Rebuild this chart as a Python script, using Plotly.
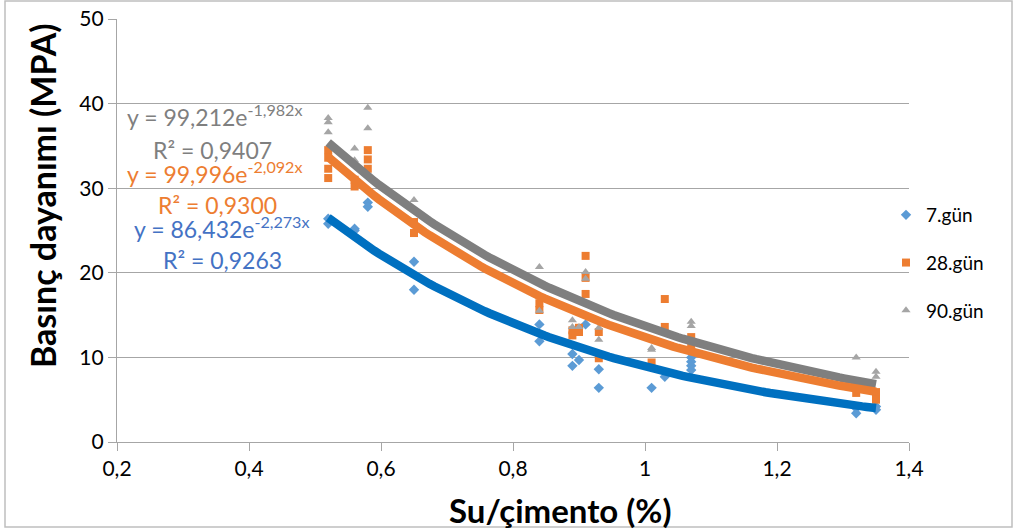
import numpy as np
import plotly.graph_objects as go

# ---- data ----
x7 = [0.52, 0.52, 0.56, 0.56, 0.58, 0.58, 0.65, 0.65, 0.84, 0.84, 0.89, 0.89, 0.90, 0.91,
      0.93, 0.93, 1.01, 1.03, 1.07, 1.07, 1.07, 1.07, 1.32, 1.32, 1.35, 1.35]
y7 = [25.8, 26.4, 25.2, 25.0, 28.3, 27.8, 21.3, 18.0, 13.9, 11.9, 10.4, 9.0, 9.7, 13.9,
      8.6, 6.4, 6.4, 7.7, 10.0, 9.5, 9.0, 8.5, 3.4, 4.0, 3.8, 4.2]

x28 = [0.52, 0.52, 0.52, 0.52, 0.56, 0.56, 0.58, 0.58, 0.58, 0.65, 0.65, 0.84, 0.84,
       0.89, 0.89, 0.90, 0.90, 0.91, 0.91, 0.91, 0.93, 0.93, 1.01, 1.03, 1.03, 1.07, 1.07,
       1.32, 1.35, 1.35]
y28 = [34.5, 33.6, 32.3, 31.2, 31.0, 30.2, 34.5, 33.4, 32.3, 24.7, 26.0, 16.4, 15.6,
       13.2, 12.6, 13.5, 13.0, 22.0, 19.4, 17.5, 13.0, 9.9, 9.4, 16.9, 13.6, 12.4, 11.5,
       5.8, 5.9, 5.0]

x90 = [0.52, 0.52, 0.52, 0.56, 0.56, 0.58, 0.58, 0.65, 0.84, 0.84, 0.89, 0.89, 0.90,
       0.91, 0.91, 0.93, 0.93, 1.01, 1.01, 1.03, 1.07, 1.07, 1.32, 1.35, 1.35]
y90 = [38.3, 37.8, 36.6, 34.7, 33.3, 39.5, 37.1, 28.6, 20.7, 15.5, 14.4, 13.6, 13.6,
       20.1, 19.3, 13.5, 12.1, 11.1, 10.9, 13.0, 14.2, 13.7, 10.0, 8.3, 7.7]

series_names = ["7.gün", "28.gün", "90.gün"]
fit_a = [86.432, 99.996, 99.212]
fit_b = [-2.273, -2.092, -1.982]
fit_r2 = ["0,9263", "0,9300", "0,9407"]
fit_a_txt = ["86,432", "99,996", "99,212"]
fit_b_txt = ["-2,273", "-2,092", "-1,982"]

x_ticks = [0.2, 0.4, 0.6, 0.8, 1.0, 1.2, 1.4]
x_tick_labels = ["0,2", "0,4", "0,6", "0,8", "1", "1,2", "1,4"]
y_ticks = [0, 10, 20, 30, 40, 50]

# ---- styles ----
marker_colors = ["#5B9BD5", "#ED7D31", "#A5A5A5"]
line_colors = ["#0070C0", "#ED7D31", "#7F7F7F"]
text_colors = ["#4472C4", "#ED7D31", "#7F7F7F"]
symbols = ["diamond", "square", "triangle-up"]
FONT = "Lato"

fig = go.Figure()
xs = [x7, x28, x90]
ys = [y7, y28, y90]
for i in range(3):
    fig.add_trace(go.Scatter(
        x=xs[i], y=ys[i], mode="markers", name=series_names[i],
        legendgroup=series_names[i],
        marker=dict(symbol=symbols[i], size=8, color=marker_colors[i]),
    ))

# trendlines from displayed fit equations
for i in [2, 1, 0]:
    xmin, xmax = min(xs[i]), max(xs[i])
    xt = np.linspace(xmin, xmax, 120)
    yt = fit_a[i] * np.exp(fit_b[i] * xt)
    fig.add_trace(go.Scatter(
        x=xt, y=yt, mode="lines", showlegend=False, hoverinfo="skip",
        line=dict(color=line_colors[i], width=8.5),
    ))

# equation annotations (positions in data coords)
ann_pos = {
    2: [(0.348, 38.65), (0.344, 34.5)],
    1: [(0.348, 31.9), (0.352, 28.0)],
    0: [(0.359, 25.3), (0.36, 21.5)],
}
annotations = []
for i in range(3):
    (ex, ey), (rx, ry) = ann_pos[i]
    annotations.append(dict(
        x=ex, y=ey, xref="x", yref="y", showarrow=False,
        text=f"y = {fit_a_txt[i]}e<sup>{fit_b_txt[i]}x</sup>",
        font=dict(family=FONT, size=23, color=text_colors[i]),
    ))
    annotations.append(dict(
        x=rx, y=ry, xref="x", yref="y", showarrow=False,
        text=f"R² = {fit_r2[i]}",
        font=dict(family=FONT, size=23, color=text_colors[i]),
    ))

L, R, T, B = 117, 108, 19, 90
PW, PH = 1017 - L - R, 532 - T - B

annotations.append(dict(
    x=(42 - L) / PW, y=(442 - 196) / PH, xref="paper", yref="paper",
    text="<b>Basınç dayanımı (MPA)</b>", textangle=-90, showarrow=False,
    font=dict(family=FONT, size=34, color="#000000"),
    xanchor="center", yanchor="middle",
))
annotations.append(dict(
    x=(560 - L) / PW, y=(442 - 510) / PH, xref="paper", yref="paper",
    text="<b>Su/çimento (%)</b>", showarrow=False,
    font=dict(family=FONT, size=33, color="#000000"),
    xanchor="center", yanchor="middle",
))

fig.update_layout(
    width=1017, height=532,
    margin=dict(l=L, r=R, t=T, b=B, autoexpand=False),
    paper_bgcolor="white", plot_bgcolor="white",
    separators=",.",
    annotations=annotations,
    showlegend=True,
    legend=dict(
        x=(886 - L) / PW, y=(442 - 263) / PH, xanchor="left", yanchor="middle",
        font=dict(family=FONT, size=19, color="#000000"),
        tracegroupgap=20, bgcolor="rgba(0,0,0,0)",
    ),
    shapes=[dict(
        type="rect", xref="paper", yref="paper",
        x0=(5 - L) / PW, x1=(1012 - L) / PW,
        y0=(442 - 527) / PH, y1=(442 - 1) / PH,
        line=dict(color="#BFBFBF", width=1.5), layer="below",
    )],
)
fig.update_xaxes(
    range=[0.2, 1.4], tickvals=x_ticks, ticktext=x_tick_labels,
    showgrid=False, zeroline=False,
    showline=True, linecolor="#A6A6A6", linewidth=1.2,
    ticks="outside", ticklen=8, tickcolor="#A6A6A6",
    tickfont=dict(family=FONT, size=21, color="#000000"),
)
fig.update_yaxes(
    range=[0, 50], tickvals=y_ticks,
    showgrid=True, gridcolor="#A6A6A6", gridwidth=1.2, zeroline=False,
    showline=True, linecolor="#A6A6A6", linewidth=1.2,
    ticks="outside", ticklen=8, tickcolor="#A6A6A6",
    tickfont=dict(family=FONT, size=21, color="#000000"),
)

fig.write_html(
    "out.html",
    config={"displayModeBar": False},
    post_script="document.body.style.margin='0';document.body.style.overflow='hidden';",
)
